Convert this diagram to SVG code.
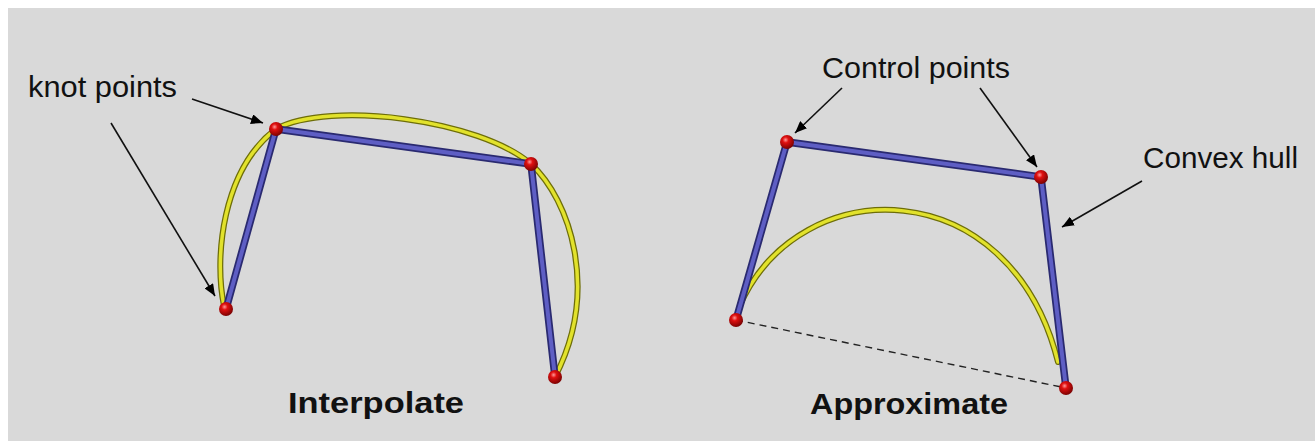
<svg xmlns="http://www.w3.org/2000/svg" width="1315" height="441" viewBox="0 0 1315 441">
<defs>
<radialGradient id="ball" cx="0.4" cy="0.35" r="0.7">
<stop offset="0" stop-color="#ff9a9a"/>
<stop offset="0.3" stop-color="#e01010"/>
<stop offset="1" stop-color="#700000"/>
</radialGradient>
<marker id="ah" viewBox="0 0 12 10" refX="12" refY="5" markerWidth="12" markerHeight="10" markerUnits="userSpaceOnUse" orient="auto">
<path d="M0,0 L12,5 L0,10 z" fill="#000"/>
</marker>
<style>
.lbl{font-family:"Liberation Sans",Arial,sans-serif;font-size:30px;fill:#111}
.ttl{font-family:"Liberation Sans",Arial,sans-serif;font-size:29px;font-weight:bold;fill:#111}
.arrow{stroke:#111;stroke-width:1.6;fill:none;marker-end:url(#ah)}
.bar-o{stroke:#2a2a70;stroke-width:7.5;stroke-linecap:round;fill:none}
.bar-i{stroke:#5e5ec4;stroke-width:4;stroke-linecap:round;fill:none}
.crv-o{stroke:#6e6e08;stroke-width:6;fill:none;stroke-linecap:round}
.crv-i{stroke:#e2e22c;stroke-width:3.5;fill:none;stroke-linecap:round}
.knot{fill:url(#ball)}
.dash{stroke:#222;stroke-width:1.4;stroke-dasharray:7,5;fill:none}
</style>
</defs>
<rect x="0" y="0" width="1315" height="441" fill="#ffffff"/>
<rect x="8" y="8" width="1307" height="433" fill="#d9d9d9"/>

<g id="interpolate">
<path class="crv-o" d="M224,306 C214,258 222,170 276,129 C330,100 480,120 531,164 C570,200 600,290 555,377"/>
<path class="crv-i" d="M224,306 C214,258 222,170 276,129 C330,100 480,120 531,164 C570,200 600,290 555,377"/>
<polyline class="bar-o" points="226,309 276,129 531,164 555,377"/>
<polyline class="bar-i" points="226,309 276,129 531,164 555,377"/>
<circle class="knot" cx="226" cy="309" r="7"/>
<circle class="knot" cx="276" cy="129" r="7"/>
<circle class="knot" cx="531" cy="164" r="7"/>
<circle class="knot" cx="555" cy="377" r="7"/>
<text class="ttl" x="288" y="413" textLength="176" lengthAdjust="spacingAndGlyphs">Interpolate</text>
</g>

<g id="approximate">
<line class="dash" x1="736" y1="320" x2="1066" y2="388"/>
<path class="crv-o" d="M740,305 C800,170 1010,170 1058,362"/>
<path class="crv-i" d="M740,305 C800,170 1010,170 1058,362"/>
<polyline class="bar-o" points="736,320 787,142 1041,177 1066,388"/>
<polyline class="bar-i" points="736,320 787,142 1041,177 1066,388"/>
<circle class="knot" cx="736" cy="320" r="7"/>
<circle class="knot" cx="787" cy="142" r="7"/>
<circle class="knot" cx="1041" cy="177" r="7"/>
<circle class="knot" cx="1066" cy="388" r="7"/>
<text class="ttl" x="810" y="414" textLength="198" lengthAdjust="spacingAndGlyphs">Approximate</text>
</g>

<g id="label-knot">
<text class="lbl" x="28" y="97" textLength="149" lengthAdjust="spacingAndGlyphs">knot points</text>
</g>
<g id="label-control">
<text class="lbl" x="822" y="78" textLength="188" lengthAdjust="spacingAndGlyphs">Control points</text>
</g>
<g id="label-hull">
<text class="lbl" x="1143" y="168" textLength="155" lengthAdjust="spacingAndGlyphs">Convex hull</text>
</g>

<g id="connectors">
<line class="arrow" x1="192" y1="99" x2="263" y2="123"/>
<line class="arrow" x1="111" y1="123" x2="215" y2="296"/>
<line class="arrow" x1="842" y1="88" x2="795" y2="133"/>
<line class="arrow" x1="980" y1="88" x2="1037" y2="167"/>
<line class="arrow" x1="1142" y1="181" x2="1062" y2="227"/>
</g>
</svg>
